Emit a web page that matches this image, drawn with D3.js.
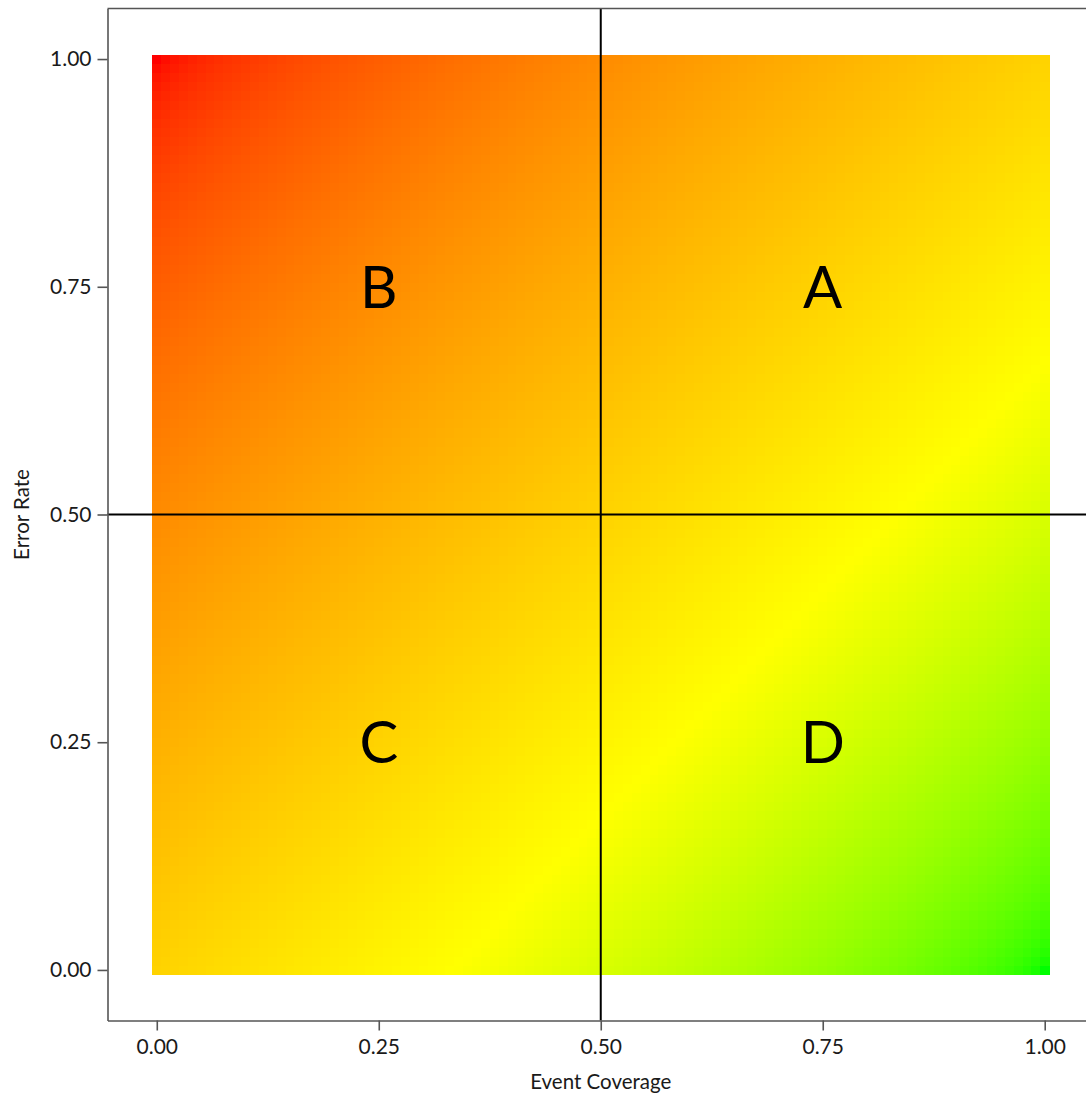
<!DOCTYPE html>
<html>
<head>
<meta charset="utf-8">
<script src="https://cdn.jsdelivr.net/npm/d3@7"></script>
<style>
  html, body { margin: 0; padding: 0; background: #fff; }
  svg { display: block; font-family: Lato, "Open Sans", sans-serif; }
</style>
</head>
<body>
<svg id="chart" width="1086" height="1095"></svg>
<script>
// ---- data ----
const xTicks = [0, 0.25, 0.5, 0.75, 1];
const yTicks = [0, 0.25, 0.5, 0.75, 1];
const gridStep = 0.01;
const gridValues = d3.range(0, 1 + gridStep / 2, gridStep).map(v => +v.toFixed(2));
const colorStops = [-1, -1/3, 1/3, 1];
const colorNames = ["#ff0000", "#ffa500", "#ffff00", "#00ff00"];
const quadrants = [
  { label: "A", x: 0.75, y: 0.75 },
  { label: "B", x: 0.25, y: 0.75 },
  { label: "C", x: 0.25, y: 0.25 },
  { label: "D", x: 0.75, y: 0.25 }
];
const refX = [0.5];
const refY = [0.5];
const xTitle = "Event Coverage";
const yTitle = "Error Rate";

// ---- scales ----
const svg = d3.select("#chart");
const x = d3.scaleLinear().domain([-0.0555, 1.0555]).range([107.5, 1094]);
const y = d3.scaleLinear().domain([-0.0555, 1.0555]).range([1020.5, 8.5]);
const fill = d3.scaleLinear().domain(colorStops).range(colorNames).interpolate(d3.interpolateLab);

// raster tiles
const cells = [];
gridValues.forEach(gx => gridValues.forEach(gy => cells.push({ gx, gy })));
const tw = Math.abs(x(gridStep) - x(0));
const th = Math.abs(y(0) - y(gridStep));
svg.append("g").selectAll("rect").data(cells).join("rect")
  .attr("x", d => x(d.gx - gridStep / 2))
  .attr("y", d => y(d.gy + gridStep / 2))
  .attr("width", tw + 0.5)
  .attr("height", th + 0.5)
  .attr("fill", d => fill(d.gx - d.gy))
  .attr("shape-rendering", "crispEdges");

// reference lines
svg.append("g").selectAll("line").data(refX).join("line")
  .attr("x1", d => x(d)).attr("x2", d => x(d))
  .attr("y1", y.range()[0]).attr("y2", y.range()[1])
  .attr("stroke", "#000").attr("stroke-width", 2);
svg.append("g").selectAll("line").data(refY).join("line")
  .attr("y1", d => y(d)).attr("y2", d => y(d))
  .attr("x1", x.range()[0]).attr("x2", x.range()[1])
  .attr("stroke", "#000").attr("stroke-width", 2);

// quadrant labels
svg.append("g").selectAll("text").data(quadrants).join("text")
  .attr("x", d => x(d.x)).attr("y", d => y(d.y))
  .attr("text-anchor", "middle").attr("dy", "0.36em")
  .attr("font-size", 58).attr("fill", "#000")
  .text(d => d.label);

// panel border (top)
svg.append("line")
  .attr("x1", x.range()[0]).attr("x2", x.range()[1])
  .attr("y1", y.range()[1]).attr("y2", y.range()[1])
  .attr("stroke", "#555").attr("stroke-width", 1.6);

// axes
const xAxis = svg.append("g").attr("transform", `translate(0,${y.range()[0]})`)
  .call(d3.axisBottom(x).tickValues(xTicks).tickFormat(d3.format(".2f")).tickSize(10).tickPadding(9).tickSizeOuter(0));
const yAxis = svg.append("g").attr("transform", `translate(${x.range()[0]},0)`)
  .call(d3.axisLeft(y).tickValues(yTicks).tickFormat(d3.format(".2f")).tickSize(10).tickPadding(6).tickSizeOuter(0));
[xAxis, yAxis].forEach(g => {
  g.select(".domain").attr("stroke", "#555").attr("stroke-width", 1.6);
  g.selectAll(".tick line").attr("stroke", "#555").attr("stroke-width", 1.6);
  g.selectAll(".tick text").attr("fill", "#1a1a1a").attr("font-size", 21)
    .attr("font-family", "Lato, sans-serif");
});

// titles
svg.append("text").attr("x", x(0.5)).attr("y", 1089)
  .attr("text-anchor", "middle").attr("font-size", 20.5).attr("fill", "#1a1a1a")
  .text(xTitle);
svg.append("text").attr("transform", `translate(29,${y(0.5)}) rotate(-90)`)
  .attr("text-anchor", "middle").attr("font-size", 20.5).attr("fill", "#1a1a1a")
  .text(yTitle);
</script>
</body>
</html>
